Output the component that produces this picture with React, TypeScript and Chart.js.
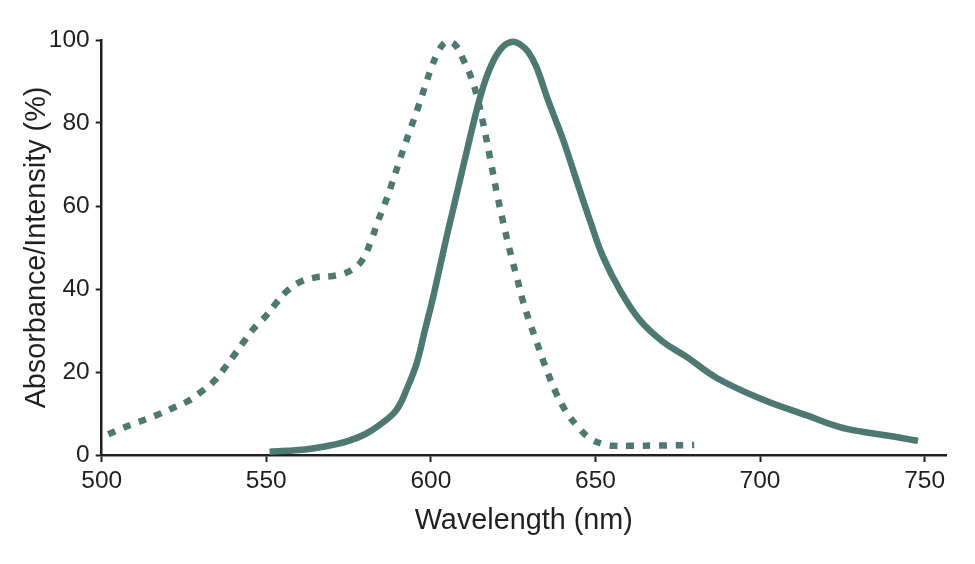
import React, { useEffect, useRef } from "react";
import { Chart, registerables } from "chart.js";

Chart.register(...registerables);

// Absorbance spectrum (dotted)
const absWavelengths = [
  502, 507, 512, 517, 521, 526, 530, 534, 537, 540, 543, 546, 550, 553, 556, 560, 565, 570, 575, 579,
  582, 584, 586, 588, 590, 592, 594, 596, 598, 600, 602, 604, 606, 608, 610, 612, 614, 616,
  618, 620, 622, 624.5, 626, 628, 630, 632, 634, 636, 638, 640, 642, 644, 648, 652, 656,
  660, 670, 680,
];
const absValues = [
  5, 6.7, 8.2, 9.7, 11.1, 12.9, 15.1, 17.7, 20.6, 23.8, 27.1, 30.3, 33.6, 36.6, 39.3, 41.6, 42.8, 43.1, 44.2, 46.8,
  52, 56.5, 60.5, 65, 69.8, 74.5, 79, 83.5, 88.3, 93, 96.8, 99.2, 99.6, 98.2, 95, 91.5, 86.5, 79.5,
  71.5, 63.3, 56, 47.6, 43.2, 37, 32, 27.6, 23, 18.8, 15, 11.9, 9.4, 7.4, 4.2, 2.7, 2.2,
  2.2, 2.3, 2.4,
];

// Emission spectrum (solid)
const emWavelengths = [
  551, 556, 560, 565, 570, 575, 580, 584.5, 589.5, 593, 595.7, 598.2, 600.7, 603, 605.2, 607, 609, 611, 613,
  615, 617, 619, 621, 623, 625, 627, 629.5, 632, 635.6, 640.2, 644.2, 648.3, 652.3, 657.4, 663.5,
  670.5, 677.6, 687, 701, 714, 724, 731, 741, 748,
];
const emValues = [
  0.8, 1.0, 1.2, 1.7, 2.4, 3.4, 5.0, 7.3, 10.8, 16.5, 22.1, 30.1, 38.1, 46.2, 54, 60, 66.8, 73.5, 80.2,
  86.3, 91.3, 95, 97.6, 99.1, 99.6, 99, 97.2, 93.6, 85.5, 75.9, 66.3, 56.6, 47.8, 39.8, 32.5,
  27.3, 23.7, 18.5, 13.3, 9.6, 6.8, 5.6, 4.4, 3.4,
];

const xTicks = [500, 550, 600, 650, 700, 750];
const yTicks = [0, 20, 40, 60, 80, 100];

const LINE = "#4e7872";
const INK = "#231f20";
const FONT = "'Liberation Sans', Arial, Helvetica, sans-serif";

export default function App() {
  const ref = useRef<HTMLCanvasElement | null>(null);

  useEffect(() => {
    const canvas = ref.current;
    if (!canvas) return;
    const chart = new Chart(canvas, {
      type: "line",
      data: {
        datasets: [
          {
            label: "Absorbance",
            data: absWavelengths.map((x, i) => ({ x, y: absValues[i] })),
            borderColor: LINE,
            borderWidth: 6.5,
            borderDash: [7.5, 9],
            borderCapStyle: "butt",
            pointRadius: 0,
            tension: 0.4,
            fill: false,
            clip: false as any,
          },
          {
            label: "Emission",
            data: emWavelengths.map((x, i) => ({ x, y: emValues[i] })),
            borderColor: LINE,
            borderWidth: 6.5,
            borderCapStyle: "butt",
            borderJoinStyle: "round",
            pointRadius: 0,
            tension: 0.4,
            fill: false,
            clip: false as any,
          },
        ],
      },
      options: {
        responsive: false,
        animation: false,
        layout: { padding: { left: 0, top: 40, right: 29, bottom: 0 } },
        plugins: { legend: { display: false }, tooltip: { enabled: false } },
        scales: {
          x: {
            type: "linear",
            min: 500,
            max: 756.5,
            afterBuildTicks: (s: any) => {
              s.ticks = xTicks.map((v) => ({ value: v }));
            },
            afterFit: (s: any) => {
              s.height = 109;
            },
            border: { display: true, color: INK, width: 2.5 },
            grid: {
              display: true,
              drawOnChartArea: false,
              drawTicks: true,
              tickLength: 7,
              tickWidth: 2,
              tickColor: INK,
            },
            ticks: {
              color: INK,
              font: { family: FONT, size: 24.5 },
              padding: 5,
              maxRotation: 0,
              autoSkip: false,
            },
            title: {
              display: true,
              text: "Wavelength (nm)",
              color: INK,
              font: { family: FONT, size: 28.8 },
              padding: { top: 0, bottom: 25.5 },
            },
          },
          y: {
            type: "linear",
            min: 0,
            max: 100,
            afterBuildTicks: (s: any) => {
              s.ticks = yTicks.map((v) => ({ value: v }));
            },
            afterFit: (s: any) => {
              s.width = 101.7;
            },
            border: { display: true, color: INK, width: 2.5 },
            grid: {
              display: true,
              drawOnChartArea: false,
              drawTicks: true,
              tickLength: 6,
              tickWidth: 2,
              tickColor: INK,
            },
            ticks: {
              color: INK,
              font: { family: FONT, size: 24.5 },
              padding: 6,
              autoSkip: false,
            },
            title: {
              display: true,
              text: "Absorbance/Intensity (%)",
              color: INK,
              font: { family: FONT, size: 28.8 },
              padding: { top: 20, bottom: 0 },
            },
          },
        },
      },
    });
    return () => chart.destroy();
  }, []);

  return (
    <div style={{ position: "fixed", left: 0, top: 0, width: 975, height: 564, background: "#fff" }}>
      <canvas ref={ref} width={975} height={564} style={{ width: 975, height: 564, display: "block" }} />
    </div>
  );
}
